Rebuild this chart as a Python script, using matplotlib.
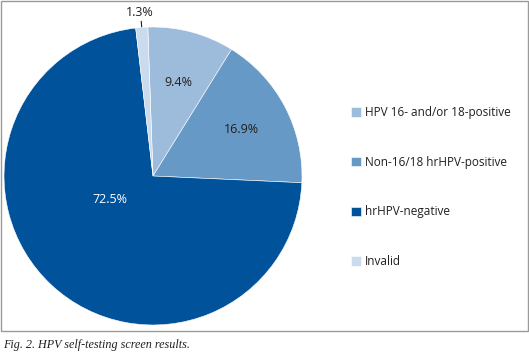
import matplotlib
matplotlib.use("Agg")
import matplotlib.pyplot as plt
from matplotlib.patches import Rectangle
import numpy as np

categories = ["HPV 16- and/or 18-positive", "Non-16/18 hrHPV-positive", "hrHPV-negative", "Invalid"]
values = [9.4, 16.9, 72.5, 1.3]
colors = ["#9dbbda", "#6799c6", "#00529b", "#c9dbec"]
caption = "Fig. 2. HPV self-testing screen results."

plt.rcParams['font.family'] = ['Open Sans', 'DejaVu Sans']
txt = "#231f20"

W, H = 529, 352
fig = plt.figure(figsize=(W/100, H/100), dpi=100)

# pie axes placed in pixel terms: centre ~(153,176), radius ~149
r = 149
cx, cy = 153, 176
ax = fig.add_axes([(cx-r)/W, (H-cy-r)/H, 2*r/W, 2*r/H])
wedges, _ = ax.pie(values, colors=colors, startangle=92, counterclock=False,
                   radius=1, wedgeprops=dict(edgecolor="white", linewidth=0.4))
ax.set_xlim(-1, 1)
ax.set_ylim(-1, 1)
ax.set_aspect("equal")
ax.axis("off")

# slice labels: (distance from centre, angle shift from wedge middle)
label_pos = {0: (0.65, 0), 1: (0.67, 0), 2: (0.33, -19)}
for i, (w, v) in enumerate(zip(wedges, values)):
    mid = (w.theta1 + w.theta2) / 2
    if categories[i] == "Invalid":
        a = np.deg2rad(mid)
        x, y = np.cos(a), np.sin(a)
        ax.plot([x*1.005, x*1.04], [y*1.005, y*1.04], color=txt, lw=0.8, clip_on=False)
        ax.text(x - 0.01, 1.10, f"{v}%", ha="center", va="center", fontsize=9, color=txt, clip_on=False)
    else:
        d, shift = label_pos[i]
        a = np.deg2rad(mid + shift)
        c = "white" if i == 2 else txt
        ax.text(d*np.cos(a), d*np.sin(a), f"{v}%", ha="center", va="center", fontsize=9, color=c)

fig.legend(wedges, categories, loc="upper left", bbox_to_anchor=(340/W, 1 - 95.5/H),
           frameon=False, fontsize=8.5, labelspacing=3.1, handlelength=0.85, handleheight=0.85,
           handletextpad=0.35, labelcolor=txt)

# frame around the chart area
fig.patches.append(Rectangle((0.5/W, (H-331)/H), (W-1.5)/W, 330/H, transform=fig.transFigure,
                             fill=False, edgecolor="#9a9a9a", linewidth=1.0))

fig.text(3/W, 1 - 345/H, caption, fontsize=8.7, style="italic", family="Liberation Serif",
         color=txt, va="center", ha="left")

fig.savefig("out.png", dpi=100)
